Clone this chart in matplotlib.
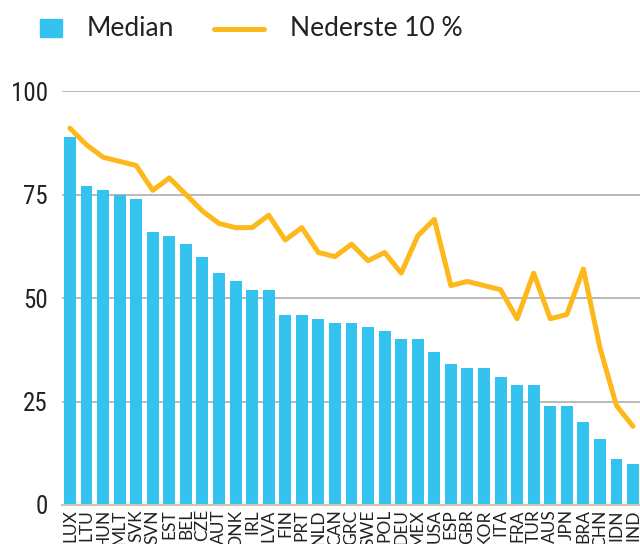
import matplotlib
matplotlib.use('Agg')
import matplotlib.pyplot as plt
from matplotlib.lines import Line2D
from matplotlib.patches import Rectangle

countries = ['LUX', 'LTU', 'HUN', 'MLT', 'SVK', 'SVN', 'EST', 'BEL', 'CZE', 'AUT',
             'DNK', 'IRL', 'LVA', 'FIN', 'PRT', 'NLD', 'CAN', 'GRC', 'SWE', 'POL',
             'DEU', 'MEX', 'USA', 'ESP', 'GBR', 'KOR', 'ITA', 'FRA', 'TUR', 'AUS',
             'JPN', 'BRA', 'CHN', 'IDN', 'IND']
median = [89, 77, 76, 75, 74, 66, 65, 63, 60, 56,
          54, 52, 52, 46, 46, 45, 44, 44, 43, 42,
          40, 40, 37, 34, 33, 33, 31, 29, 29, 24,
          24, 20, 16, 11, 10]
bottom10 = [91, 87, 84, 83, 82, 76, 79, 75, 71, 68,
            67, 67, 70, 64, 67, 61, 60, 63, 59, 61,
            56, 65, 69, 53, 54, 53, 52, 45, 56, 45,
            46, 57, 38, 24, 19]

BLUE = '#33c3ee'
GOLD = '#fdb81b'
TEXT = '#222222'
NARROW = ['Liberation Sans Narrow', 'Roboto Condensed', 'Lato']

fig = plt.figure(figsize=(6.4, 5.44), dpi=100)
ax = fig.add_axes([62 / 640, 1 - 505 / 544, 1 - 62 / 640, (505 - 91) / 544])

x = range(len(countries))
ax.bar(x, median, width=0.72, color=BLUE, zorder=2)
ax.plot(x, bottom10, color=GOLD, linewidth=3.6, solid_joinstyle='round',
        solid_capstyle='round', zorder=3, clip_on=False)

ax.set_xlim(-0.48, 34.42)
ax.set_ylim(0, 100)
ax.set_yticks([0, 25, 50, 75, 100])
ax.set_yticklabels(['0', '25', '50', '75', '100'], fontsize=18, family=NARROW,
                   color=TEXT)
ax.set_xticks(list(x))
ax.set_xticklabels(countries, rotation=90, fontsize=12.5, family='Lato', color=TEXT)
ax.tick_params(axis='both', length=0)
ax.tick_params(axis='y', pad=10)
ax.tick_params(axis='x', pad=3)

for s in ['top', 'right', 'left']:
    ax.spines[s].set_visible(False)
ax.spines['bottom'].set_color('#cfc6ad')
ax.spines['bottom'].set_linewidth(1.5)
ax.yaxis.grid(True, color='#b3b3b3', linewidth=1.3, zorder=0)
ax.set_axisbelow(True)

# legend drawn by hand at the top
fig.add_artist(Rectangle((40 / 640, 1 - 37 / 544), 22 / 640, 18 / 544,
                         transform=fig.transFigure, color=BLUE))
fig.text(87 / 640, 1 - 28 / 544, 'Median', fontsize=19, family='Lato',
         color=TEXT, va='center')
fig.add_artist(Line2D([214 / 640, 264 / 640], [1 - 29 / 544, 1 - 29 / 544],
                      transform=fig.transFigure, color=GOLD, linewidth=3.6,
                      solid_capstyle='round'))
fig.text(290 / 640, 1 - 28 / 544, 'Nederste 10 %', fontsize=19, family='Lato',
         color=TEXT, va='center')

fig.savefig('out.png', dpi=100)
